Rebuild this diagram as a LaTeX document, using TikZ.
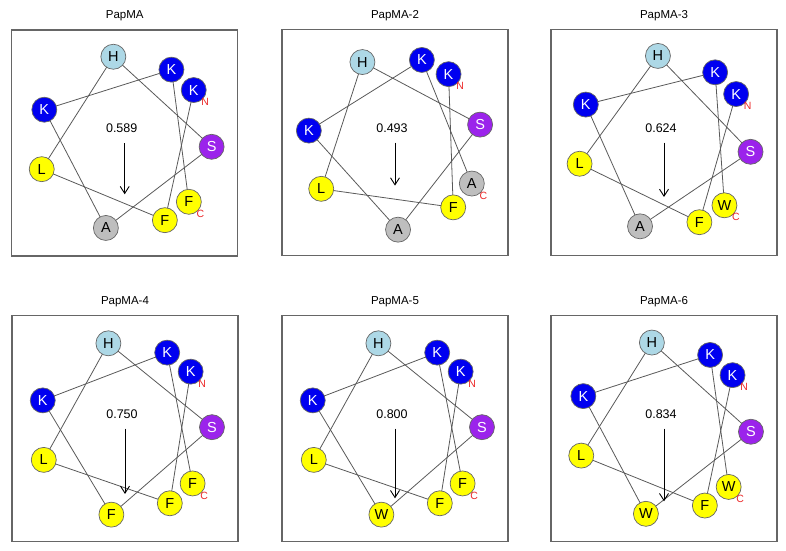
\documentclass[tikz,border=0pt]{standalone}
\usepackage{fontspec}
\setmainfont{Liberation Sans}
\usetikzlibrary{arrows.meta,backgrounds}

% residue colours
\definecolor{resH}{RGB}{173,216,230}
\definecolor{resK}{RGB}{0,0,240}
\definecolor{resS}{RGB}{155,35,235}
\definecolor{resA}{RGB}{190,190,190}
\definecolor{resF}{RGB}{255,255,0}
\colorlet{resL}{resF}
\colorlet{resW}{resF}
\colorlet{txtH}{black}
\colorlet{txtK}{white}
\colorlet{txtS}{white}
\colorlet{txtA}{black}
\colorlet{txtF}{black}
\colorlet{txtL}{black}
\colorlet{txtW}{black}
\definecolor{termred}{RGB}{235,40,40}

\tikzset{
    panelbox/.style={draw=black!60, line width=1.1pt},
    paneltitle/.style={font=\fontsize{11.5}{13}\selectfont},
    residue/.style={circle, draw=black!60, line width=0.7pt, minimum size=25pt, inner sep=0pt,
        font=\fontsize{14.5}{16}\selectfont},
    helixline/.style={draw=black!65, line width=0.8pt},
    termlabel/.style={text=termred, font=\fontsize{10.5}{12}\selectfont, inner sep=0pt},
    valuelabel/.style={font=\fontsize{12.5}{14}\selectfont, inner sep=0pt},
    moment/.style={-{Straight Barb[length=7pt,width=9pt]}, line width=0.9pt}
}

% #1 name, #2/#3 centre, #4 angle of first residue, #5 title, #6 value, #7 sequence
\newcommand{\helixwheel}[7]{%
    \draw[panelbox] ({#2-113},{#3-113}) rectangle ({#2+113},{#3+113});
    \node[paneltitle] (#1-title) at (#2,{#3-127}) {#5};
    % Residues, 100 degrees apart
    \foreach \res [count=\i from 0] in {#7}
        \node[residue, fill=res\res, text=txt\res] (#1-\i)
            at ({#2+87*sin(#4+100*\i)},{#3-87*cos(#4+100*\i)}) {\res};
    \begin{pgfonlayer}{background}
        \foreach \i [remember=\i as \last (initially 0)] in {1,...,8}
            \draw[helixline] (#1-\last.center) -- (#1-\i.center);
    \end{pgfonlayer}
    \node[termlabel] (#1-N) at ([xshift=11.5pt,yshift=-12pt]#1-0.center) {N};
    \node[termlabel] (#1-C) at ([xshift=11.5pt,yshift=-12pt]#1-8.center) {C};
    % Hydrophobic moment
    \node[valuelabel] (#1-val) at ({#2-3},{#3-14.5}) {#6};
    \coordinate (#1-mid) at (#2,#3);
    \coordinate (#1-tip) at (#2,{#3+87*#6});
    \draw[moment] (#1-mid) -- (#1-tip);
}

\begin{document}
\begin{tikzpicture}[x=1pt, y=-1pt]
    \useasboundingbox (0,0) rectangle (786,550);

    % Top row
    \helixwheel{pa}{124.7}{143}{52.5}{PapMA}{0.589}{K,F,L,H,S,A,K,K,F}
    \helixwheel{pb}{395}{142.7}{38}{PapMA-2}{0.493}{K,F,L,H,S,A,K,K,A}
    \helixwheel{pc}{664}{142.7}{56}{PapMA-3}{0.624}{K,F,L,H,S,A,K,K,W}

    % Bottom row
    \helixwheel{pd}{125}{428.7}{49}{PapMA-4}{0.750}{K,F,L,H,S,F,K,K,F}
    \helixwheel{pe}{395}{428.7}{49}{PapMA-5}{0.800}{K,F,L,H,S,W,K,K,F}
    \helixwheel{pf}{664}{428.7}{52}{PapMA-6}{0.834}{K,F,L,H,S,W,K,K,W}
\end{tikzpicture}
\end{document}
